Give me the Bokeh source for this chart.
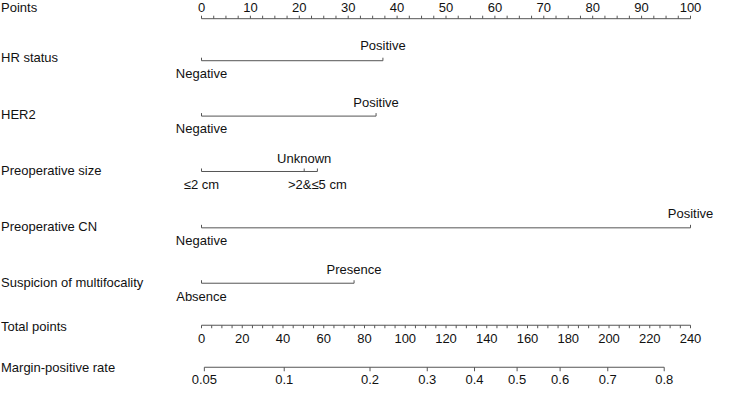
import numpy as np
from bokeh.plotting import figure
from bokeh.models import Range1d
from bokeh.core.properties import value
from bokeh.embed import file_html
from bokeh.resources import INLINE

# ---------------- data ----------------
points_major = [0, 10, 20, 30, 40, 50, 60, 70, 80, 90, 100]
points_minor_step = 2.5

variables = ["HR status", "HER2", "Preoperative size", "Preoperative CN", "Suspicion of multifocality"]
hr_levels = ["Negative", "Positive"]
hr_points = [0, 37.1]
her2_levels = ["Negative", "Positive"]
her2_points = [0, 35.7]
size_levels = ["\u22642 cm", "Unknown", ">2&\u22645 cm"]
size_points = [0, 21.0, 23.7]
cn_levels = ["Negative", "Positive"]
cn_points = [0, 100]
multi_levels = ["Absence", "Presence"]
multi_points = [0, 31.2]

total_major = [0, 20, 40, 60, 80, 100, 120, 140, 160, 180, 200, 220, 240]
total_minor_step = 5
total_max = 240

prob_labels = ["0.05", "0.1", "0.2", "0.3", "0.4", "0.5", "0.6", "0.7", "0.8"]
prob_total_points = [1.4, 40.6, 82.7, 110.8, 134.0, 154.9, 176.0, 199.4, 227.1]

# ---------------- layout ----------------
W, H = 714, 386
X0 = 201.0          # pixel of 0 points
PX = 4.89           # pixels per point
xs = -X0 / PX
xe = xs + W / PX

def fy(y):
    return 1 + 0.955 * y

FONT = value("Liberation Sans")
FS = "13px"
LC = "#555555"
TC = "#111111"

p = figure(width=W, height=H, x_range=Range1d(xs, xe), y_range=Range1d(H, 0),
           toolbar_location=None, output_backend="svg", min_border=0)
p.axis.visible = False
p.grid.visible = False
p.outline_line_color = None
p.background_fill_color = "white"
p.border_fill_color = "white"

label_x = xs + 0.5 / PX

def text(xv, yv, t, align="center", baseline="middle"):
    p.text(x=list(xv), y=list(yv), text=list(t), text_align=align, text_baseline=baseline,
           text_font=FONT, text_font_size=FS, text_color=TC)

# ---- Points axis ----
y_line = fy(18)
p.segment(x0=[0], y0=[y_line], x1=[100], y1=[y_line], line_color=LC, line_width=1)
pm = np.arange(0, 100 + 1e-9, points_minor_step)
p.segment(x0=pm, y0=[y_line] * len(pm), x1=pm, y1=[y_line - 3] * len(pm), line_color=LC, line_width=1)
text(points_major, [fy(6)] * len(points_major), [str(v) for v in points_major])
text([label_x], [fy(6)], ["Points"], align="left")

# ---- variable rows ----
rows = [
    (hr_levels, hr_points, ["below", "above"], 59, 62, 46, 75),
    (her2_levels, her2_points, ["below", "above"], 118, 120, 106, 133),
    (size_levels, size_points, ["below", "above", "below"], 177, 178, 164, 192),
    (cn_levels, cn_points, ["below", "above"], 236, 237, 222, 250),
    (multi_levels, multi_points, ["below", "above"], 294, 295, 281, 309),
]
for name, (levels, pts, sides, ylab, yl, yab, ybe) in zip(variables, rows):
    yline = fy(yl)
    p.segment(x0=[min(pts)], y0=[yline], x1=[max(pts)], y1=[yline], line_color=LC, line_width=1)
    p.segment(x0=pts, y0=[yline] * len(pts), x1=pts, y1=[yline - 3] * len(pts), line_color=LC, line_width=1)
    ys = [fy(yab) if s == "above" else fy(ybe) for s in sides]
    text(pts, ys, levels)
    text([label_x], [fy(ylab)], [name], align="left")

# ---- Total points axis ----
scale = 100.0 / total_max
y_tot = fy(339)
p.segment(x0=[0], y0=[y_tot], x1=[total_max * scale], y1=[y_tot], line_color=LC, line_width=1)
tm = np.arange(0, total_max + 1e-9, total_minor_step) * scale
p.segment(x0=tm, y0=[y_tot] * len(tm), x1=tm, y1=[y_tot + 3] * len(tm), line_color=LC, line_width=1)
text([v * scale for v in total_major], [fy(353)] * len(total_major), [str(v) for v in total_major])
text([label_x], [fy(340)], ["Total points"], align="left")

# ---- Margin-positive rate axis ----
y_pr = fy(383)
px_ = [v * scale for v in prob_total_points]
p.segment(x0=[min(px_)], y0=[y_pr], x1=[max(px_)], y1=[y_pr], line_color=LC, line_width=1)
p.segment(x0=px_, y0=[y_pr] * len(px_), x1=px_, y1=[y_pr + 4] * len(px_), line_color=LC, line_width=1)
text(px_, [fy(396)] * len(px_), prob_labels)
text([label_x], [fy(383)], ["Margin-positive rate"], align="left")

open("out.html", "w").write(file_html(p, INLINE))
